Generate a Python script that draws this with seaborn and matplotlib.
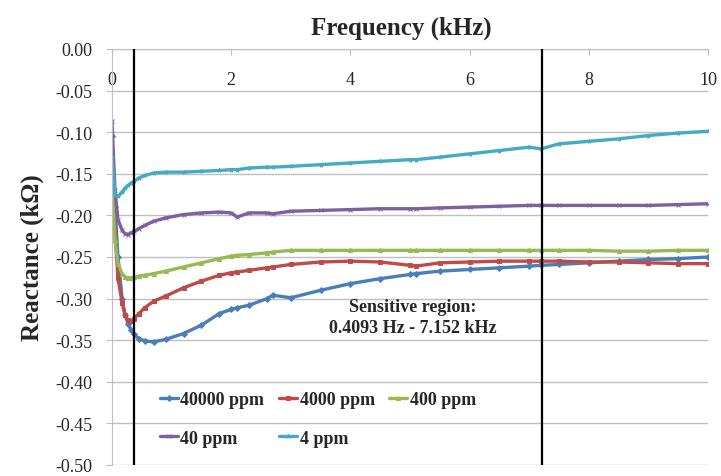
import numpy as np
import pandas as pd
import matplotlib
matplotlib.use("Agg")
import matplotlib.pyplot as plt
import seaborn as sns

# frequency sample points (kHz)
freq = [0.0, 0.05, 0.1, 0.17, 0.22, 0.27, 0.32, 0.37, 0.45, 0.55, 0.7, 0.9, 1.2, 1.5,
        1.8, 2.0, 2.1, 2.3, 2.6, 2.7, 3.0, 3.5, 4.0, 4.5, 5.0, 5.1, 5.5, 6.0, 6.5,
        7.0, 7.2, 7.5, 8.0, 8.5, 9.0, 9.5, 10.0]

x_40000 = [-0.104, -0.19, -0.25, -0.30, -0.32, -0.33, -0.338, -0.343, -0.348, -0.351, -0.352,
           -0.349, -0.342, -0.332, -0.318, -0.313, -0.311, -0.308, -0.300, -0.296, -0.299,
           -0.290, -0.282, -0.276, -0.271, -0.270, -0.267, -0.265, -0.263, -0.261, -0.260,
           -0.259, -0.257, -0.255, -0.253, -0.252, -0.250]
x_4000 = [-0.150, -0.22, -0.275, -0.305, -0.32, -0.326, -0.327, -0.324, -0.318, -0.311, -0.303,
          -0.297, -0.287, -0.279, -0.272, -0.269, -0.268, -0.266, -0.263, -0.262, -0.259,
          -0.256, -0.255, -0.256, -0.260, -0.261, -0.257, -0.256, -0.255, -0.255, -0.255,
          -0.255, -0.256, -0.256, -0.257, -0.258, -0.258]
x_400 = [-0.16, -0.23, -0.258, -0.27, -0.274, -0.275, -0.275, -0.274, -0.273, -0.272, -0.270,
         -0.267, -0.262, -0.257, -0.252, -0.249, -0.248, -0.247, -0.245, -0.244, -0.242,
         -0.242, -0.242, -0.242, -0.242, -0.242, -0.242, -0.242, -0.242, -0.242, -0.242,
         -0.242, -0.242, -0.243, -0.243, -0.242, -0.242]
x_40 = [-0.087, -0.17, -0.205, -0.218, -0.222, -0.223, -0.221, -0.219, -0.216, -0.212, -0.207,
        -0.203, -0.199, -0.197, -0.196, -0.197, -0.202, -0.197, -0.197, -0.198, -0.195,
        -0.194, -0.193, -0.192, -0.192, -0.192, -0.191, -0.190, -0.189, -0.188, -0.188,
        -0.188, -0.188, -0.188, -0.188, -0.187, -0.186]
x_4 = [-0.13, -0.175, -0.177, -0.172, -0.167, -0.164, -0.161, -0.159, -0.155, -0.152, -0.149,
       -0.148, -0.148, -0.147, -0.146, -0.145, -0.145, -0.143, -0.142, -0.142, -0.141,
       -0.139, -0.137, -0.135, -0.133, -0.133, -0.130, -0.126, -0.122, -0.118, -0.120,
       -0.114, -0.111, -0.108, -0.104, -0.101, -0.099]

labels = ["40000 ppm", "4000 ppm", "400 ppm", "40 ppm", "4 ppm"]
series = [x_40000, x_4000, x_400, x_40, x_4]
colors = ["#4a7ebb", "#be4b48", "#98b954", "#7d60a0", "#46aac5"]
marker_list = ["D", "s", "^", "x", "*"]
sensitive_bounds = [0.37, 7.21]
yticks = [-0.50, -0.45, -0.40, -0.35, -0.30, -0.25, -0.20, -0.15, -0.10, -0.05, 0.00]
ytick_labels = ["-0.50", "-0.45", "-0.40", "-0.35", "-0.30", "-0.25", "-0.20", "-0.15",
                "-0.10", "-0.05", "0.00"]

sns.set_style("white")
plt.rcParams['font.family'] = ['Liberation Serif', 'DejaVu Serif']

fig = plt.figure(figsize=(7.21, 4.77), dpi=100)
ax = fig.add_axes([112 / 721, 1 - 466 / 477, 596 / 721, 416 / 477])

for lab, s, col, mk in zip(labels, series, colors, marker_list):
    sns.lineplot(x=freq, y=s, color=col, marker=mk, label=lab, linewidth=2.4,
                 markersize=3, markeredgewidth=0.7, markeredgecolor=col, ax=ax)

for b in sensitive_bounds:
    ax.axvline(b, color="black", lw=1.6, zorder=5)

ax.set_xlim(0, 10)
ax.set_ylim(-0.5, 0)
ax.set_yticks(yticks)
ax.set_yticklabels(ytick_labels)
ax.set_xticks([0, 2, 4, 6, 8, 10])
ax.yaxis.grid(True, color="#bfbfbf", lw=1)
ax.xaxis.grid(False)
for side in ["right", "bottom"]:
    ax.spines[side].set_visible(False)
for side in ["left", "top"]:
    ax.spines[side].set_color("#bfbfbf")
ax.tick_params(axis="y", left=True, length=4, color="#bfbfbf", pad=10, labelsize=13)
ax.tick_params(axis="x", top=True, bottom=False, labeltop=True, labelbottom=False,
               direction="in", length=4, color="#bfbfbf", pad=-28, labelsize=13)
ax.set_xlabel("")
ax.set_ylabel("Reactance (kΩ)", fontsize=18, fontweight="bold", labelpad=8)

fig.text(401 / 721, 1 - 28 / 477, "Frequency (kHz)", ha="center", va="center",
         fontsize=18, fontweight="bold")

ax.text(5.05, -0.322, "Sensitive region:\n0.4093 Hz - 7.152 kHz", ha="center", va="center",
        fontsize=13, fontweight="bold", linespacing=1.3)

handles, labs = ax.get_legend_handles_labels()
order = [0, 3, 1, 4, 2]
ax.legend([handles[i] for i in order], [labs[i] for i in order], ncol=3, frameon=False,
          loc="upper left", bbox_to_anchor=(0.08, 0.178), borderpad=0, borderaxespad=0,
          handlelength=1.0, handletextpad=0.15, columnspacing=0.8, labelspacing=1.2,
          prop={"weight": "bold", "size": 13})

fig.savefig("out.png", dpi=100)
